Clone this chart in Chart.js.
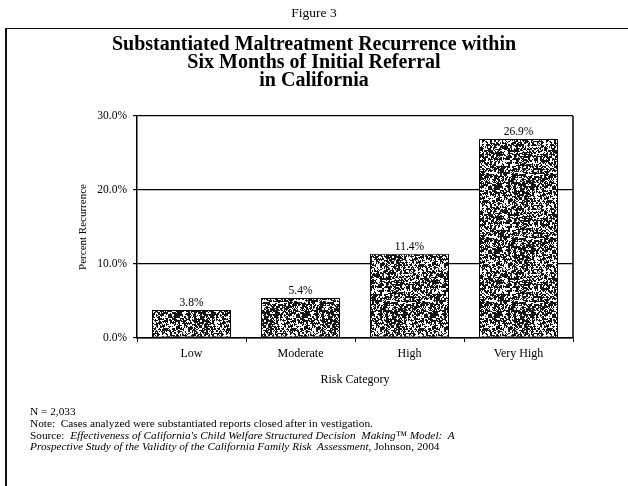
<!DOCTYPE html>
<html>
<head>
<meta charset="utf-8">
<script src="https://cdn.jsdelivr.net/npm/chart.js@4.4.0/dist/chart.umd.min.js"></script>
<style>
  html, body { margin: 0; padding: 0; background: #fff; }
  #wrap { position: relative; width: 628px; height: 486px; overflow: hidden; font-family: "Liberation Serif", "Times New Roman", serif; color: #000; }
  #c { position: absolute; left: 0; top: 0; }
  .t { position: absolute; white-space: nowrap; }
  #fig { left: 0; width: 628px; text-align: center; top: 5px; font-size: 13.5px; }
  #frame { position: absolute; left: 5px; top: 28px; width: 640px; height: 470px; border-top: 1.5px solid #111; border-left: 2px solid #111; }
  #title { left: 0; width: 628px; text-align: center; top: 34px; font-size: 20px; font-weight: bold; line-height: 18px; }
  #foot { left: 30px; top: 406px; font-size: 11.3px; line-height: 11.8px; }
  i { font-style: italic; }
</style>
</head>
<body>
<div id="wrap">
  <div id="frame"></div>
  <canvas id="c" width="628" height="486"></canvas>
  <div class="t" id="fig">Figure 3</div>
  <div class="t" id="title">Substantiated Maltreatment Recurrence within<br>Six Months of Initial Referral<br>in California</div>
  <div class="t" id="foot">N = 2,033<br>Note:&nbsp; Cases analyzed were substantiated reports closed after in vestigation.<br>Source:&nbsp; <i>Effectiveness of California's Child Welfare Structured Decision&nbsp; Making™ Model:&nbsp; A</i><br><i>Prospective Study of the Validity of the California Family Risk&nbsp; Assessment</i>, Johnson, 2004</div>
</div>
<script>
const categories = ["Low", "Moderate", "High", "Very High"];
const recurrence = [3.8, 5.4, 11.4, 26.9];
const valueLabels = ["3.8%", "5.4%", "11.4%", "26.9%"];
const yTicks = [0, 10, 20, 30];

// stipple texture for the bars (deterministic hash, style only)
function makePattern() {
  const p = document.createElement('canvas');
  p.width = 64; p.height = 64;
  const g = p.getContext('2d');
  g.fillStyle = '#fff'; g.fillRect(0, 0, 64, 64);
  g.fillStyle = '#151515';
  function hash(x, y) {
    let h = (x * 374761393 + y * 668265263) | 0;
    h = Math.imul(h ^ (h >>> 13), 1274126177);
    return ((h ^ (h >>> 16)) >>> 0) % 100;
  }
  for (let y = 0; y < 64; y++) {
    for (let x = 0; x < 64; x++) {
      const coarse = hash(x >> 1, (y >> 1) + 1000);
      const fine = hash(x, y);
      if (coarse < 55 ? fine < 85 : fine < 30) g.fillRect(x, y, 1, 1);
    }
  }
  return g.createPattern(p, 'repeat');
}

const frameAndLabels = {
  id: 'frameAndLabels',
  afterDatasetsDraw(chart) {
    const ctx = chart.ctx;
    const a = chart.chartArea;
    ctx.save();
    ctx.strokeStyle = '#000';
    ctx.lineWidth = 1.5;
    ctx.beginPath();
    ctx.moveTo(a.right, a.top);
    ctx.lineTo(a.right, a.bottom);
    ctx.stroke();
    ctx.fillStyle = '#000';
    ctx.font = '11.5px "Liberation Serif", serif';
    ctx.textAlign = 'center';
    ctx.textBaseline = 'bottom';
    chart.getDatasetMeta(0).data.forEach((bar, i) => {
      ctx.fillText(valueLabels[i], bar.x, bar.y - 1);
    });
    ctx.restore();
  }
};

const serif = '"Liberation Serif", "Times New Roman", serif';

new Chart(document.getElementById('c'), {
  type: 'bar',
  data: {
    labels: categories,
    datasets: [{
      data: recurrence,
      backgroundColor: makePattern(),
      borderColor: '#000',
      borderWidth: 1,
      borderSkipped: false,
      barPercentage: 0.725,
      categoryPercentage: 1.0
    }]
  },
  options: {
    responsive: false,
    animation: false,
    devicePixelRatio: 1,
    layout: { padding: { left: 0, right: 55, top: 116, bottom: 98 } },
    plugins: { legend: { display: false }, tooltip: { enabled: false } },
    scales: {
      x: {
        afterFit(s) { s.height = 50; },
        grid: { display: true, drawOnChartArea: false, offset: true, color: '#000', tickLength: 4, lineWidth: 1 },
        border: { color: '#000', width: 1.5 },
        ticks: { color: '#000', font: { family: serif, size: 12 }, padding: 5, maxRotation: 0 },
        title: { display: true, text: 'Risk Category', color: '#000', font: { family: serif, size: 12 }, padding: { top: 0, bottom: 1 } }
      },
      y: {
        min: 0, max: 30,
        afterFit(s) { s.width = 137; },
        afterBuildTicks(s) { s.ticks = yTicks.map(v => ({ value: v })); },
        grid: { color: '#000', lineWidth: 1.2, tickLength: 4 },
        border: { color: '#000', width: 1.5 },
        ticks: { color: '#000', font: { family: serif, size: 11.5 }, padding: 6, callback: v => v.toFixed(1) + '%' },
        title: { display: true, text: 'Percent Recurrence', color: '#000', font: { family: serif, size: 11 }, padding: { top: 77, bottom: 0 } }
      }
    }
  },
  plugins: [frameAndLabels]
});
</script>
</body>
</html>
